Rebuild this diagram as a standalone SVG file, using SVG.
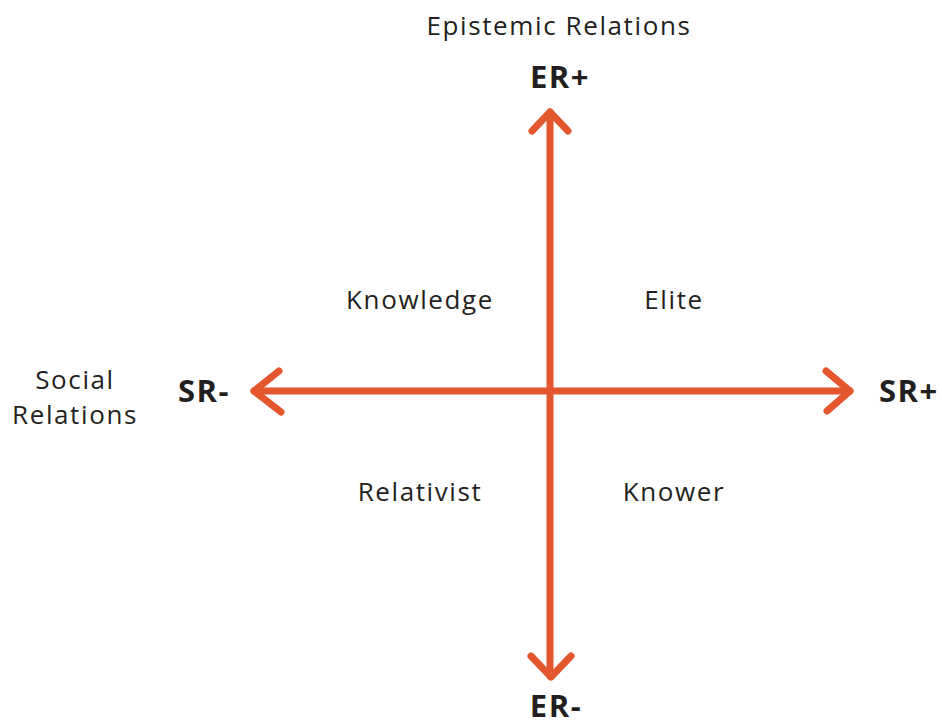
<svg xmlns="http://www.w3.org/2000/svg" width="942" height="727" viewBox="0 0 942 727">
<style>
text{font-family:"Open Sans","Liberation Sans",sans-serif;fill:#231f20}
.lbl{font-size:26px;text-anchor:middle;letter-spacing:1.6px}
.pole{font-size:31px;font-weight:bold;letter-spacing:1.5px}
.ax{stroke:#e4572e;stroke-width:7;fill:none;stroke-linecap:round;stroke-linejoin:round}
</style>
<rect width="942" height="727" fill="#ffffff"/>
<g id="connectors">
<path class="ax" d="M550 112 V676"/>
<path class="ax" d="M532 131 L550 112 L568 131"/>
<path class="ax" d="M531 656 L551 677 L571 656"/>
<path class="ax" d="M254 391 H850"/>
<path class="ax" d="M279 371 L254 391 L281 412"/>
<path class="ax" d="M826 371 L850 391 L827 411"/>
</g>
<g id="title-er"><text class="lbl" x="559" y="35">Epistemic Relations</text></g>
<g id="er-plus"><text class="pole" x="560" y="88" text-anchor="middle">ER+</text></g>
<g id="er-minus"><text class="pole" x="556" y="717" text-anchor="middle">ER-</text></g>
<g id="sr-minus"><text class="pole" x="178" y="402">SR-</text></g>
<g id="sr-plus"><text class="pole" x="879" y="402">SR+</text></g>
<g id="title-sr"><text class="lbl" x="75" y="389">Social</text><text class="lbl" x="75" y="424">Relations</text></g>
<g id="knowledge"><text class="lbl" x="420" y="309">Knowledge</text></g>
<g id="elite"><text class="lbl" x="674" y="309">Elite</text></g>
<g id="relativist"><text class="lbl" x="420" y="501">Relativist</text></g>
<g id="knower"><text class="lbl" x="674" y="501">Knower</text></g>
</svg>
